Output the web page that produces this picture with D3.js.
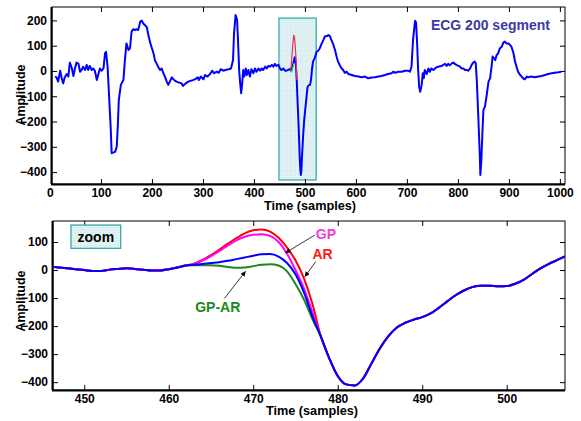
<!DOCTYPE html>
<html><head><meta charset="utf-8">
<script src="https://cdn.jsdelivr.net/npm/d3@7/dist/d3.min.js"></script>
<style>
body{margin:0;background:#fff;}
svg{display:block;}
text{font-family:"Liberation Sans",Arial,sans-serif;font-weight:bold;}
</style></head><body>
<svg id="chart" width="581" height="421"></svg>
<script>
// ---------------- DATA ----------------
// Top panel: ECG record 200 segment, [sample, amplitude]
const ecgSegment = [[10,-22],[13,-25],[16,-42],[20,1],[23,-29],[26,-49],[29,-25],[33,-12],[36,-22],[39,33],[43,10],[46,-20],[49,10],[52,33],[56,28],[59,-3],[62,4],[65,17],[69,4],[72,24],[75,4],[78,20],[82,4],[85,10],[88,1],[92,-36],[95,-12],[98,10],[101,1],[105,10],[108,70],[110,76],[113,17],[116,-102],[119,-220],[121,-325],[124,-323],[128,-319],[131,-299],[133,-220],[135,-115],[139,-55],[144,-36],[147,43],[150,109],[154,83],[157,90],[160,155],[163,165],[167,162],[170,165],[173,162],[177,195],[180,199],[183,188],[186,182],[190,173],[193,142],[196,116],[199,96],[203,70],[206,41],[209,30],[212,17],[216,4],[219,10],[222,-7],[226,-25],[229,-42],[232,-55],[235,-42],[239,-25],[242,-33],[245,-38],[248,-42],[252,-45],[258,-49],[261,-59],[265,-51],[271,-42],[278,-38],[284,-33],[290,-25],[292,-36],[296,-22],[301,-33],[304,-16],[309,-22],[314,-12],[318,1],[322,-9],[327,-3],[331,-7],[335,7],[340,1],[344,4],[350,7],[355,10],[359,43],[361,149],[364,221],[367,202],[369,109],[371,4],[373,-49],[375,-88],[377,-49],[379,4],[381,-22],[384,10],[386,-16],[389,4],[392,-22],[395,7],[399,-9],[402,10],[405,-3],[409,10],[412,1],[415,10],[418,4],[422,17],[425,10],[428,20],[431,17],[435,24],[438,17],[441,28],[444,20],[448,24],[451,10],[454,4],[458,10],[461,1],[464,1],[467,4],[471,8],[472,2],[474,10],[476,22],[478,36],[480,54],[481,50],[482,30],[483,0],[484,-40],[485,-90],[486,-140],[487,-187],[488,-240],[489,-295],[490,-350],[491,-390],[492,-411],[493,-395],[494.5,-330],[496.5,-255],[498.5,-195],[500.5,-155],[503,-105],[505,-65],[507,-57],[510,-55],[512,-35],[514,10],[516,38],[519,50],[523,76],[526,80],[529,89],[533,109],[536,122],[539,136],[543,138],[546,142],[549,138],[552,122],[556,103],[559,83],[562,57],[565,37],[569,20],[572,10],[575,4],[578,-7],[582,-3],[585,-12],[592,-16],[598,-20],[605,-22],[611,-25],[618,-22],[624,-29],[631,-26],[637,-25],[644,-22],[650,-20],[657,-16],[663,-12],[670,-9],[673,-3],[677,-7],[683,-3],[690,-3],[696,1],[703,1],[706,-3],[709,17],[712,122],[716,199],[718,191],[720,109],[722,4],[724,-62],[726,-82],[729,-55],[731,-9],[733,-29],[735,4],[739,-12],[742,10],[745,-3],[748,10],[752,4],[755,10],[758,14],[761,17],[768,20],[775,28],[778,20],[781,28],[784,22],[788,30],[791,33],[794,28],[797,24],[801,20],[804,17],[807,10],[811,10],[814,4],[817,4],[820,1],[824,10],[827,24],[830,33],[833,37],[835,30],[837,-36],[840,-181],[843,-339],[844,-411],[846,-352],[848,-246],[850,-154],[853,-141],[856,-102],[860,-42],[863,-29],[866,17],[868,57],[871,50],[873,43],[876,63],[879,70],[882,89],[886,96],[889,112],[892,116],[895,109],[899,109],[902,103],[905,96],[909,70],[912,37],[915,17],[918,-3],[922,-16],[925,-22],[928,-29],[931,-33],[935,-22],[938,-25],[944,-22],[951,-25],[958,-22],[964,-20],[971,-16],[977,-12],[984,-9],[990,-7],[997,-5],[1003,-3]];
// Top panel overlays inside highlighted window
const ecgAR = [[472,4],[473,22],[474,45],[475,72],[476,100],[477,122],[478,140],[479,138],[480,122],[481,100],[482,68],[483,25],[484,-35]];
const ecgGPAR = [[472,2],[473,-2],[474,-4],[475,0],[476,8],[477,18],[478,30]];
const highlightWindow = {x0:449, x1:522, y0:-431, y1:209};

// Bottom panel (zoom): shared start, divergent gap, shared tail
const zoomStart = [[446.3,12],[447,9],[448,6],[449,3],[450,0],[451,-3],[452,-3],[453,1.5],[454,4],[455,6],[456,4],[457,1],[458,-2],[459,-1.5],[460,3],[461,9],[462,16]];
const zoomTail = [[478,-237],[479,-315],[480,-378],[481,-408],[482,-412],[483,-387],[484,-333],[485,-279],[486,-236],[487,-205],[488,-188],[489,-177],[490,-168],[491,-155],[492,-134],[493,-111],[494,-89],[495,-72],[496,-60],[497,-56],[498,-56],[499,-58],[500,-57],[501,-49],[502,-35],[503,-14],[504,6],[505,22],[506,36],[506.9,49]];
const gapAR   = [[463,23],[464,36],[465,53],[466,73],[467,94],[468,114],[469,131],[470,142],[471,145],[472,137],[473,115],[474,80],[475,35],[476,-30],[477,-120]];
const gapGP   = [[463,22],[464,34],[465,50],[466,68],[467,88],[468,106],[469,119],[470,126],[471,128],[472,122],[473,100],[474,58],[475,0],[476,-65],[477,-150]];
const gapTrue = [[463,19],[464,22],[465,25],[466,28],[467,33],[468,39],[469,45],[470,51],[471,56],[472,57],[473,48],[474,25],[475,-15],[476,-80],[477,-165]];
const gapGPAR = [[463,17],[464,17],[465,17],[466,15],[467,11],[468,8],[469,9],[470,14],[471,19],[472,21],[473,16],[474,-5],[475,-50],[476,-105],[477,-175]];

const topXTicks = [0,100,200,300,400,500,600,700,800,900,1000];
const topYTicks = [-400,-300,-200,-100,0,100,200];
const botXTicks = [450,460,470,480,490,500];
const botYTicks = [-400,-300,-200,-100,0,100];

// annotations (data coordinates of the zoom panel)
const arrows = [
  {label:"GP", color:"#f23fd6", tail:[477.3,125], head:[473.8,61], text:[478.6,128]},
  {label:"AR", color:"#ff1a1a", tail:[477.4,30], head:[476.1,-24], text:[478.2,56]},
  {label:"GP-AR", color:"#1a8a1a", tail:[466.6,-101], head:[469.1,-4], text:[465.8,-131]}
];

// ---------------- DRAW ----------------
const svg = d3.select('#chart');
const defs = svg.append('defs');
const pat = defs.append('pattern').attr('id','grid').attr('width',2.5).attr('height',2.5).attr('patternUnits','userSpaceOnUse');
pat.append('rect').attr('width',2.5).attr('height',2.5).attr('fill','#e8f5f6');
pat.append('path').attr('d','M0 0H2.5M0 0V2.5').attr('stroke','#c4e4e7').attr('stroke-width',0.8);
defs.append('marker').attr('id','arr').attr('viewBox','0 0 10 10').attr('refX',10).attr('refY',5)
  .attr('markerWidth',6).attr('markerHeight',5).attr('markerUnits','userSpaceOnUse').attr('orient','auto')
  .append('path').attr('d','M0,0L10,5L0,10z').attr('fill','#000');

const topX = d3.scaleLinear().domain([4,1010]).range([52,565]);
const topY = d3.scaleLinear().domain([-447,253]).range([184,7]);
const botX = d3.scaleLinear().domain([446.3,506.9]).range([53,565]);
const botY = d3.scaleLinear().domain([-428,175]).range([390,221]);
const fmt = d3.format('d');

function styleAxis(g){
  g.select('.domain').remove();
  g.attr('font-family',null).attr('font-size',null);
  g.selectAll('.tick line').attr('stroke','#000').attr('stroke-width',1);
  g.selectAll('.tick text').attr('font-size',12).attr('fill','#000');
}
function frame(x,y,xt,yt,id){
  const [x0,x1]=x.range(), [yb,yt0]=y.range();
  const dx=x.domain();
  const inX = xt.filter(v=>v>=dx[0]&&v<=dx[1]);
  svg.append('g').attr('transform',`translate(0,${yb})`)
    .call(d3.axisBottom(x).tickValues(xt).tickFormat(fmt).tickSizeInner(-5).tickSizeOuter(0).tickPadding(4)).call(styleAxis)
    .selectAll('.tick').filter(d=>d<dx[0]||d>dx[1]).select('line').remove();
  svg.append('g').attr('transform',`translate(0,${yt0})`)
    .call(d3.axisTop(x).tickValues(inX).tickSizeInner(-5).tickSizeOuter(0).tickFormat('')).call(styleAxis);
  svg.append('g').attr('transform',`translate(${x0},0)`)
    .call(d3.axisLeft(y).tickValues(yt).tickFormat(fmt).tickSizeInner(-5).tickSizeOuter(0).tickPadding(5)).call(styleAxis);
  svg.append('g').attr('transform',`translate(${x1},0)`)
    .call(d3.axisRight(y).tickValues(yt).tickSizeInner(-5).tickSizeOuter(0).tickFormat('')).call(styleAxis);
  svg.append('rect').attr('x',x0).attr('y',yt0).attr('width',x1-x0).attr('height',yb-yt0)
    .attr('fill','none').attr('stroke','#000').attr('stroke-width',1);
  svg.append('line').attr('x1',x0-1).attr('x2',x1).attr('y1',yb+0.5).attr('y2',yb+0.5).attr('stroke','#000').attr('stroke-width',2);
  svg.append('line').attr('x1',x0-0.5).attr('x2',x0-0.5).attr('y1',yt0).attr('y2',yb).attr('stroke','#000').attr('stroke-width',2);
  defs.append('clipPath').attr('id',id).append('rect').attr('x',x0).attr('y',yt0).attr('width',x1-x0).attr('height',yb-yt0);
}

// ---- Top panel ----
svg.append('rect')
  .attr('x',topX(highlightWindow.x0)).attr('y',topY(highlightWindow.y1))
  .attr('width',topX(highlightWindow.x1)-topX(highlightWindow.x0))
  .attr('height',topY(highlightWindow.y0)-topY(highlightWindow.y1))
  .attr('fill','url(#grid)').attr('stroke','#3aa9a9').attr('stroke-width',1.3);
frame(topX,topY,topXTicks,topYTicks,'clipTop');
const topLine = d3.line().x(d=>topX(d[0])).y(d=>topY(d[1]));
const gTop = svg.append('g').attr('clip-path','url(#clipTop)');
gTop.append('path').datum(ecgSegment).attr('d',topLine).attr('fill','none').attr('stroke','#0000ff').attr('stroke-width',2).attr('stroke-linejoin','round');
gTop.append('path').datum(ecgAR).attr('d',topLine).attr('fill','none').attr('stroke','#f0305a').attr('stroke-width',1.2);
gTop.append('path').datum(ecgGPAR).attr('d',topLine).attr('fill','none').attr('stroke','#3ade3a').attr('stroke-width',1.2);
svg.append('text').attr('x',topX(747)).attr('y',topY(164)).attr('font-size',14).attr('fill','#3b3ba0').text('ECG 200 segment');
svg.append('text').attr('transform',`translate(21,95) rotate(-90)`).attr('text-anchor','middle').attr('dominant-baseline','central').attr('font-size',12.5).text('Amplitude');
svg.append('text').attr('x',310).attr('y',206).attr('text-anchor','middle').attr('dominant-baseline','central').attr('font-size',12.7).text('Time (samples)');

// ---- Bottom panel ----
frame(botX,botY,botXTicks,botYTicks,'clipBot');
const botLine = d3.line().x(d=>botX(d[0])).y(d=>botY(d[1])).curve(d3.curveMonotoneX);
const gBot = svg.append('g').attr('clip-path','url(#clipBot)');
const series = [
  {data: zoomStart.concat(gapGPAR, zoomTail), color:'#1a8a1a'},
  {data: zoomStart.concat(gapAR, zoomTail), color:'#ff0000'},
  {data: zoomStart.concat(gapGP, zoomTail), color:'#ff00ff'},
  {data: zoomStart.concat(gapTrue, zoomTail), color:'#0000ff'}
];
series.forEach(s=>gBot.append('path').datum(s.data).attr('d',botLine).attr('fill','none').attr('stroke',s.color).attr('stroke-width',2));

// zoom label box
const zb = {x0:448.43, x1:454.31, y0:77.4, y1:160.5};
svg.append('rect').attr('x',botX(zb.x0)).attr('y',botY(zb.y1)).attr('width',botX(zb.x1)-botX(zb.x0)).attr('height',botY(zb.y0)-botY(zb.y1))
  .attr('fill','url(#grid)').attr('stroke','#3aa9a9').attr('stroke-width',1.3);
svg.append('text').attr('x',botX((zb.x0+zb.x1)/2)).attr('y',botY((zb.y0+zb.y1)/2)).attr('text-anchor','middle').attr('dominant-baseline','central').attr('font-size',14).text('zoom');

arrows.forEach(a=>{
  svg.append('line').attr('x1',botX(a.tail[0])).attr('y1',botY(a.tail[1])).attr('x2',botX(a.head[0])).attr('y2',botY(a.head[1]))
    .attr('stroke','#000').attr('stroke-width',0.8).attr('marker-end','url(#arr)');
  svg.append('text').attr('x',botX(a.text[0])).attr('y',botY(a.text[1])).attr('text-anchor','middle').attr('dominant-baseline','central')
    .attr('font-size',14).attr('fill',a.color).text(a.label);
});
svg.append('text').attr('transform',`translate(21,301) rotate(-90)`).attr('text-anchor','middle').attr('dominant-baseline','central').attr('font-size',12.5).text('Amplitude');
svg.append('text').attr('x',312).attr('y',411).attr('text-anchor','middle').attr('dominant-baseline','central').attr('font-size',12.7).text('Time (samples)');
</script>
</body></html>
